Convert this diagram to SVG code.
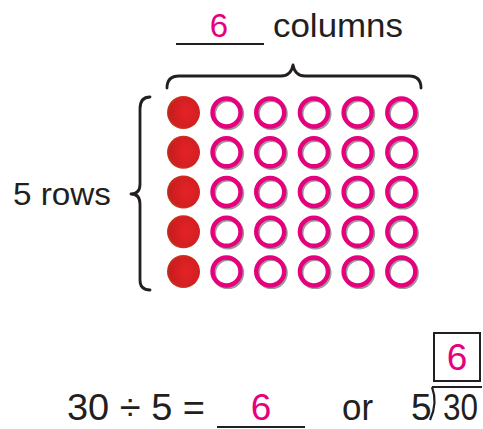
<svg xmlns="http://www.w3.org/2000/svg" width="483" height="429" viewBox="0 0 483 429">
<defs>
<radialGradient id="redg" cx="0.55" cy="0.5" r="0.55">
<stop offset="0" stop-color="#E42326"/>
<stop offset="0.8" stop-color="#D41F22"/>
<stop offset="0.95" stop-color="#C9461E"/>
<stop offset="1" stop-color="#E8B04A"/>
</radialGradient>
<linearGradient id="redl" x1="0" y1="0" x2="1" y2="0">
<stop offset="0" stop-color="#B3161B" stop-opacity="0.6"/>
<stop offset="0.6" stop-color="#E02024" stop-opacity="0"/>
</linearGradient>
<g id="dot"><circle r="16.5" fill="url(#redg)"/><circle r="16.5" fill="url(#redl)"/></g>
<g id="ring"><circle cx="1.5" cy="1.5" r="14" fill="none" stroke="#9A9A9A" stroke-width="4.2"/><circle r="14" fill="none" stroke="#E6007E" stroke-width="4.4"/></g>
</defs>
<style>
.t{font-family:"Liberation Sans",Arial,sans-serif;fill:#231F20}
.p{font-family:"Liberation Sans",Arial,sans-serif;fill:#E6007E}
.ln{stroke:#231F20;stroke-width:2.2;fill:none}
.br{stroke:#231F20;stroke-width:2.8;fill:none;stroke-linecap:round;stroke-linejoin:round}
</style>
<g id="columns-label">
<line class="ln" x1="176" y1="44" x2="264" y2="44"/>
<text class="p" x="219" y="37" font-size="33" text-anchor="middle">6</text>
<text class="t" x="273" y="37" font-size="34" textLength="130" lengthAdjust="spacingAndGlyphs">columns</text>
</g>
<g id="rows-label">
<text class="t" x="13" y="205" font-size="32" textLength="98" lengthAdjust="spacingAndGlyphs">5 rows</text>
</g>
<g id="connectors">
<path id="top-brace" class="br" d="M167,88 Q167,76 179,76 L281,76 Q291,76 293,65 Q295,76 305,76 L409,76 Q421,76 421,88"/>
<path id="left-brace" class="br" d="M150,97 Q140,97 140,109 L140,184 Q140,194 131,194 Q140,194 140,204 L140,280 Q140,290 150,290"/>
</g>
<g id="array">
<g id="row1">
<use href="#dot" x="183.5" y="112.5"/>
<use href="#ring" x="226.5" y="112.5"/><use href="#ring" x="270.2" y="112.5"/><use href="#ring" x="313.9" y="112.5"/><use href="#ring" x="357.6" y="112.5"/><use href="#ring" x="401.3" y="112.5"/>
</g>
<g id="row2">
<use href="#dot" x="183.5" y="152.3"/>
<use href="#ring" x="226.5" y="152.3"/><use href="#ring" x="270.2" y="152.3"/><use href="#ring" x="313.9" y="152.3"/><use href="#ring" x="357.6" y="152.3"/><use href="#ring" x="401.3" y="152.3"/>
</g>
<g id="row3">
<use href="#dot" x="183.5" y="192"/>
<use href="#ring" x="226.5" y="192"/><use href="#ring" x="270.2" y="192"/><use href="#ring" x="313.9" y="192"/><use href="#ring" x="357.6" y="192"/><use href="#ring" x="401.3" y="192"/>
</g>
<g id="row4">
<use href="#dot" x="183.5" y="231.8"/>
<use href="#ring" x="226.5" y="231.8"/><use href="#ring" x="270.2" y="231.8"/><use href="#ring" x="313.9" y="231.8"/><use href="#ring" x="357.6" y="231.8"/><use href="#ring" x="401.3" y="231.8"/>
</g>
<g id="row5">
<use href="#dot" x="183.5" y="271.5"/>
<use href="#ring" x="226.5" y="271.5"/><use href="#ring" x="270.2" y="271.5"/><use href="#ring" x="313.9" y="271.5"/><use href="#ring" x="357.6" y="271.5"/><use href="#ring" x="401.3" y="271.5"/>
</g>
</g>
<g id="equation">
<text class="t" x="67" y="420" font-size="37" textLength="138" lengthAdjust="spacingAndGlyphs">30 ÷ 5 =</text>
<line class="ln" x1="217" y1="427" x2="305" y2="427"/>
<text class="p" x="261" y="420" font-size="37" text-anchor="middle">6</text>
<text class="t" x="342" y="420" font-size="37" textLength="31" lengthAdjust="spacingAndGlyphs">or</text>
</g>
<g id="long-division">
<rect x="434" y="333" width="46" height="48" fill="#fff" stroke="#231F20" stroke-width="2"/>
<text class="p" x="457" y="370" font-size="37" text-anchor="middle">6</text>
<text class="t" x="411" y="420" font-size="37">5</text>
<path class="ln" d="M432,387 L482,387 M432,387 Q438,403 430,420" stroke-width="2"/>
<text class="t" x="443" y="420" font-size="36" textLength="35" lengthAdjust="spacingAndGlyphs">30</text>
</g>
</svg>
